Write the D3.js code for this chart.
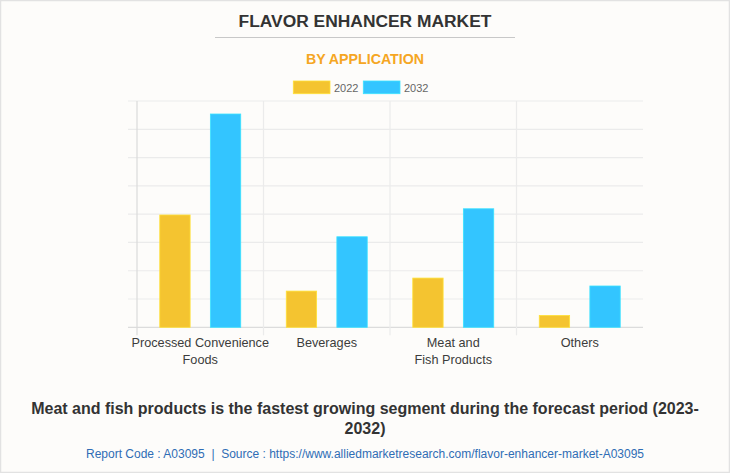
<!DOCTYPE html>
<html>
<head>
<meta charset="utf-8">
<script src="https://cdn.jsdelivr.net/npm/d3@7"></script>
<style>
  html, body { margin: 0; padding: 0; background: #fdfcfa; }
  svg { display: block; font-family: "Liberation Sans", Arial, sans-serif; }
</style>
</head>
<body>
<svg id="chart" width="730" height="473"></svg>
<script>
// ---- data ----
const categories = ["Processed Convenience\nFoods", "Beverages", "Meat and\nFish Products", "Others"];
const seriesNames = ["2022", "2032"];
const values2022 = [1985, 640, 870, 210];
const values2032 = [3770, 1600, 2095, 730];
const yTicks = [0, 500, 1000, 1500, 2000, 2500, 3000, 3500, 4000];
const seriesColors = ["#f4c430", "#33c5ff"];
const title = "FLAVOR ENHANCER MARKET";
const subtitle = "BY APPLICATION";
const footnoteLines = ["Meat and fish products is the fastest growing segment during the forecast period (2023-", "2032)"];
const sourceLine = "Report Code : A03095  |  Source : https://www.alliedmarketresearch.com/flavor-enhancer-market-A03095";

const svg = d3.select("#chart");
const W = 730, H = 473;

// background & border
svg.append("rect").attr("x", 0.5).attr("y", 0.5).attr("width", W - 1).attr("height", H - 1)
  .attr("fill", "#fdfcfa").attr("stroke", "#e2e2e2").attr("stroke-width", 1.5);

// title
svg.append("text").attr("x", 365).attr("y", 27.3).attr("text-anchor", "middle")
  .attr("font-size", 17.4).attr("font-weight", "bold").attr("fill", "#333").text(title);
svg.append("line").attr("x1", 215).attr("x2", 515).attr("y1", 37.5).attr("y2", 37.5)
  .attr("stroke", "#c8c8c8").attr("stroke-width", 1);
svg.append("text").attr("x", 365).attr("y", 64).attr("text-anchor", "middle")
  .attr("font-size", 14.2).attr("font-weight", "bold").attr("fill", "#f5a623").text(subtitle);

// legend
const legend = svg.append("g");
const legendX = [293.3, 363.3];
seriesNames.forEach((s, i) => {
  legend.append("rect").attr("x", legendX[i]).attr("y", 81).attr("width", 36.7).attr("height", 12.7)
    .attr("fill", seriesColors[i]).attr("stroke", d3.color(seriesColors[i]).brighter(0.4)).attr("stroke-width", 0.8);
  legend.append("text").attr("x", legendX[i] + 40.7).attr("y", 91.5)
    .attr("font-size", 11).attr("fill", "#666").text(s);
});

// scales
const plotL = 137, plotR = 643, plotT = 101, plotB = 327.3;
const x0 = d3.scaleBand().domain(categories).range([plotL, plotR]).padding(0);
const x1 = d3.scaleBand().domain(seriesNames).range([0, x0.bandwidth()]).paddingInner(0.4).paddingOuter(0.45);
const y = d3.scaleLinear().domain([0, 4000]).range([plotB, plotT]);

// horizontal grid (with left tick stubs)
const grid = svg.append("g");
grid.selectAll("line.h").data(yTicks).join("line")
  .attr("x1", plotL - 9).attr("x2", plotR)
  .attr("y1", d => y(d)).attr("y2", d => y(d))
  .attr("stroke", d => d === 0 ? "#dcdcdc" : "#ebebeb").attr("stroke-width", 1.2);

// vertical category separators
const bounds = categories.map(c => x0(c)).concat([plotR]);
grid.selectAll("line.v").data(bounds.slice(0, 4)).join("line")
  .attr("x1", d => d).attr("x2", d => d)
  .attr("y1", plotT).attr("y2", plotB + 8)
  .attr("stroke", (d, i) => i === 0 ? "#dadada" : "#ebebeb").attr("stroke-width", 1.2);

// bars
const data = categories.map((c, i) => ({ cat: c, vals: [values2022[i], values2032[i]] }));
const groups = svg.append("g").selectAll("g").data(data).join("g")
  .attr("transform", d => `translate(${x0(d.cat)},0)`);
groups.selectAll("rect").data(d => d.vals.map((v, j) => ({ s: seriesNames[j], v, j }))).join("rect")
  .attr("x", d => x1(d.s))
  .attr("width", x1.bandwidth())
  .attr("y", d => y(d.v))
  .attr("height", d => y(0) - y(d.v))
  .attr("fill", d => seriesColors[d.j])
  .attr("stroke", d => d3.color(seriesColors[d.j]).brighter(0.4))
  .attr("stroke-width", 0.8);

// category labels
const labels = svg.append("g").selectAll("text").data(categories).join("text")
  .attr("x", d => x0(d) + x0.bandwidth() / 2)
  .attr("y", 346.7)
  .attr("text-anchor", "middle")
  .attr("font-size", 12.7)
  .attr("fill", "#3c3c3c");
labels.each(function (d) {
  const t = d3.select(this);
  d.split("\n").forEach((line, k) => {
    t.append("tspan").attr("x", x0(d) + x0.bandwidth() / 2).attr("dy", k === 0 ? 0 : 17.6).text(line);
  });
});

// footnote
footnoteLines.forEach((line, k) => {
  svg.append("text").attr("x", 365).attr("y", 413.5 + k * 20).attr("text-anchor", "middle")
    .attr("font-size", 16).attr("font-weight", "bold").attr("fill", "#333").text(line);
});
svg.append("text").attr("x", 365).attr("y", 457.5).attr("text-anchor", "middle")
  .attr("font-size", 12).attr("fill", "#2f6db5").attr("xml:space", "preserve").style("white-space", "pre").text(sourceLine);
</script>
</body>
</html>
